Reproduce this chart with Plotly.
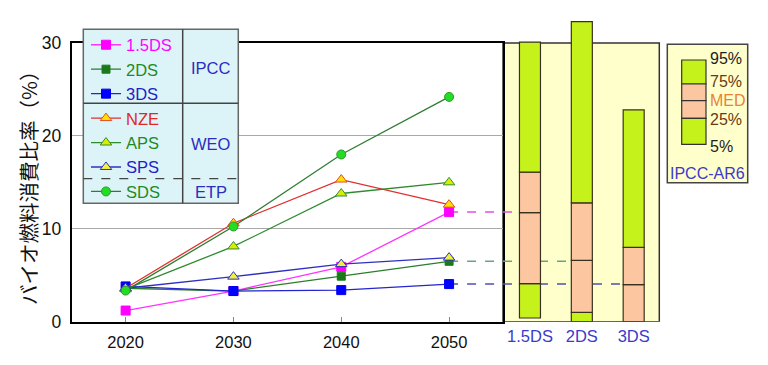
import plotly.graph_objects as go

# ---------------- data ----------------
years = [2020, 2030, 2040, 2050]
series_names = ["1.5DS", "2DS", "3DS", "NZE", "APS", "SPS", "SDS"]
v_15ds = [1.2, 3.3, 5.9, 11.8]
v_2ds = [3.6, 3.3, 4.9, 6.5]
v_3ds = [3.8, 3.3, 3.4, 4.05]
v_nze = [3.6, 10.6, 15.3, 12.6]
v_aps = [3.5, 8.1, 13.8, 15.0]
v_sps = [3.6, 4.85, 6.2, 6.9]
v_sds = [3.35, 10.25, 18.0, 24.2]

bar_cats = ["1.5DS", "2DS", "3DS"]
p5 = [0.4, 0.0, 0.0]
p25 = [4.1, 1.0, 0.0]
pmed = [11.75, 6.6, 4.0]
p75 = [16.1, 12.8, 8.0]
p95 = [30.1, 32.3, 22.8]

y_ticks = [0, 10, 20, 30]
group_labels = ["IPCC", "WEO", "ETP"]
key_labels = ["95%", "75%", "MED", "25%", "5%"]

# ---------------- helpers (pixel -> paper) ----------------
W, H = 768, 365
def px(x):
    return x / W
def py(y):
    return 1 - y / H

FONT = "Liberation Sans, Arial, sans-serif"
LIME = "#c6f21c"
PEACH = "#fbc6a0"
PANEL = "#ffffcc"

fig = go.Figure()

styles = [
    dict(name="1.5DS", y=v_15ds, lc="#ff33ff", sym="square", mc="#ff00ff", ec="#ff00ff", sz=9, tc="#ff00ff"),
    dict(name="2DS", y=v_2ds, lc="#2a7f2a", sym="square", mc="#1a7a1a", ec="#1a7a1a", sz=8, tc="#1f8a1f"),
    dict(name="3DS", y=v_3ds, lc="#2424d0", sym="square", mc="#0000ff", ec="#0000ee", sz=9, tc="#2020c8"),
    dict(name="NZE", y=v_nze, lc="#e03030", sym="triangle-up", mc="#ffe000", ec="#e05020", sz=10, tc="#e02828"),
    dict(name="APS", y=v_aps, lc="#2e8b2e", sym="triangle-up", mc="#d4f000", ec="#3a8a3a", sz=10, tc="#1f8a1f"),
    dict(name="SPS", y=v_sps, lc="#3030c0", sym="triangle-up", mc="#f0f040", ec="#3030c0", sz=10, tc="#2020c8"),
    dict(name="SDS", y=v_sds, lc="#2e7d32", sym="circle", mc="#22dd22", ec="#2a9a2a", sz=9, tc="#1f8a1f"),
]

for s in styles:
    fig.add_trace(go.Scatter(
        x=years, y=s["y"], mode="lines+markers",
        name=f"<span style='color:{s['tc']}'>{s['name']}</span>",
        line=dict(color=s["lc"], width=1.3),
        marker=dict(symbol=s["sym"], size=s["sz"], color=s["mc"],
                    line=dict(color=s["ec"], width=1)),
        xaxis="x", yaxis="y",
    ))

# ---------------- IPCC-AR6 bars ----------------
bar_w = 0.405
seg_bounds = [(p5, p25, LIME), (p25, pmed, PEACH), (pmed, p75, PEACH), (p75, p95, LIME)]
for lo, hi, col in seg_bounds:
    fig.add_trace(go.Bar(
        x=list(range(len(bar_cats))), base=lo,
        y=[h - l for l, h in zip(lo, hi)],
        width=bar_w, marker=dict(color=col, line=dict(color="#3a3020", width=1.2)),
        showlegend=False, xaxis="x2", yaxis="y2", hoverinfo="skip",
    ))

x_range = [2015, 2055]
x2_range = [-0.52, 2.494]

shapes = []
# yellow panel
shapes.append(dict(type="rect", xref="x2 domain", yref="y2", x0=0, x1=1, y0=0, y1=30,
                   fillcolor=PANEL, line=dict(color="#333333", width=1.5), layer="below"))
# dashed connectors from 2050 values to the IPCC bars
dash_cols = ["#e050e0", "#70a080", "#5050b0"]
for i, (vals, dc) in enumerate(zip([v_15ds, v_2ds, v_3ds], dash_cols)):
    yv = vals[-1]
    shapes.append(dict(type="line", xref="x", yref="y", x0=years[-1], x1=x_range[1], y0=yv, y1=yv,
                       line=dict(color=dc, width=1.5, dash="dash"), layer="between"))
    shapes.append(dict(type="line", xref="x2", yref="y2", x0=x2_range[0], x1=i - bar_w / 2, y0=yv, y1=yv,
                       line=dict(color=dc, width=1.5, dash="dash"), layer="between"))

# legend table box
shapes.append(dict(type="rect", xref="paper", yref="paper", x0=px(83.3), x1=px(238.3), y0=py(203.3), y1=py(29.3),
                   fillcolor="#dcf4f7", line=dict(color="#666666", width=1.5), layer="above"))
shapes.append(dict(type="line", xref="paper", yref="paper", x0=px(182.7), x1=px(182.7), y0=py(203.3), y1=py(29.3),
                   line=dict(color="#444444", width=1.5), layer="above"))
shapes.append(dict(type="line", xref="paper", yref="paper", x0=px(83.3), x1=px(238.3), y0=py(103.3), y1=py(103.3),
                   line=dict(color="#444444", width=1.5), layer="above"))
shapes.append(dict(type="line", xref="paper", yref="paper", x0=px(83.3), x1=px(238.3), y0=py(178.7), y1=py(178.7),
                   line=dict(color="#444444", width=1.3, dash="dash"), layer="above"))

# key box (IPCC-AR6)
shapes.append(dict(type="rect", xref="paper", yref="paper", x0=px(667.3), x1=px(747.7), y0=py(182.7), y1=py(44.3),
                   fillcolor=PANEL, line=dict(color="#444444", width=1.5), layer="above"))
key_segs = [(60, 84, LIME), (84, 100.7, PEACH), (100.7, 118.3, PEACH), (118.3, 144.3, LIME)]
for t, b, c in key_segs:
    shapes.append(dict(type="rect", xref="paper", yref="paper", x0=px(681.7), x1=px(706), y0=py(b), y1=py(t),
                       fillcolor=c, line=dict(color="#333333", width=1.2), layer="above"))

annotations = []
for lab, yy in zip(group_labels, [68.3, 144, 192.3]):
    annotations.append(dict(text=lab, xref="paper", yref="paper", x=px(210.5), y=py(yy),
                            xanchor="center", yanchor="middle", showarrow=False,
                            font=dict(family=FONT, size=16.5, color="#2c2cc0")))
key_cols = ["#222222", "#6b3a12", "#e8823a", "#6b3a12", "#222222"]
for lab, yy, kc in zip(key_labels, [58, 81.7, 100.7, 119.3, 146.7], key_cols):
    annotations.append(dict(text=lab, xref="paper", yref="paper", x=px(707.5), y=py(yy),
                            xanchor="left", yanchor="middle", showarrow=False,
                            font=dict(family=FONT, size=16, color=kc)))
annotations.append(dict(text="IPCC-AR6", xref="paper", yref="paper", x=px(707.5), y=py(173.3),
                        xanchor="center", yanchor="middle", showarrow=False,
                        font=dict(family=FONT, size=16, color="#3a3acc")))
annotations.append(dict(text="バイオ燃料消費比率（%）", xref="paper", yref="paper", x=px(28), y=py(183),
                        xanchor="center", yanchor="middle", showarrow=False, textangle=-90,
                        font=dict(family="Noto Sans CJK JP", size=20.5, color="#111111")))

fig.update_layout(
    autosize=True, margin=dict(l=0, r=0, t=0, b=0, autoexpand=False),
    paper_bgcolor="white", plot_bgcolor="rgba(0,0,0,0)",
    barmode="overlay", showlegend=True,
    font=dict(family=FONT, size=16, color="#111111"),
    legend=dict(x=px(86), y=py(27.5), xanchor="left", yanchor="top",
                bgcolor="rgba(0,0,0,0)", borderwidth=0,
                font=dict(family=FONT, size=16.5), itemclick=False, itemdoubleclick=False),
    xaxis=dict(domain=[px(71.7), px(503)], range=x_range, tickvals=years,
               showgrid=False, zeroline=False, showline=True, mirror=True,
               linecolor="black", linewidth=2, ticks="inside", ticklen=5, tickcolor="#888888",
               ticklabelstandoff=4,
               tickfont=dict(family=FONT, size=16.5, color="#111111"), anchor="y"),
    yaxis=dict(domain=[py(321.7), py(43)], range=[0, 30], tickvals=y_ticks,
               showgrid=True, gridcolor="#a8a8a8", gridwidth=1, zeroline=False,
               showline=True, mirror=True, linecolor="black", linewidth=2, ticks="",
               ticklabelstandoff=5,
               tickfont=dict(family=FONT, size=17.5, color="#111111"), anchor="x"),
    xaxis2=dict(domain=[px(503), px(659.3)], range=x2_range, tickvals=list(range(len(bar_cats))),
                ticktext=bar_cats, showgrid=False, zeroline=False, showline=False, ticks="",
                ticklabelstandoff=3,
                tickfont=dict(family=FONT, size=16.5, color="#3a3acc"), anchor="y2"),
    yaxis2=dict(domain=[py(321.7), py(321.7 - 33 * (321.7 - 43) / 30)], range=[0, 33],
                visible=False, showgrid=False, anchor="x2"),
    shapes=shapes, annotations=annotations,
)

fig.write_html("out.html",
               config={"displayModeBar": False, "responsive": True},
               default_width="100vw", default_height="100vh",
               post_script="document.documentElement.style.margin='0px';document.body.style.margin='0px';"
                           "document.body.style.overflow='hidden';")
